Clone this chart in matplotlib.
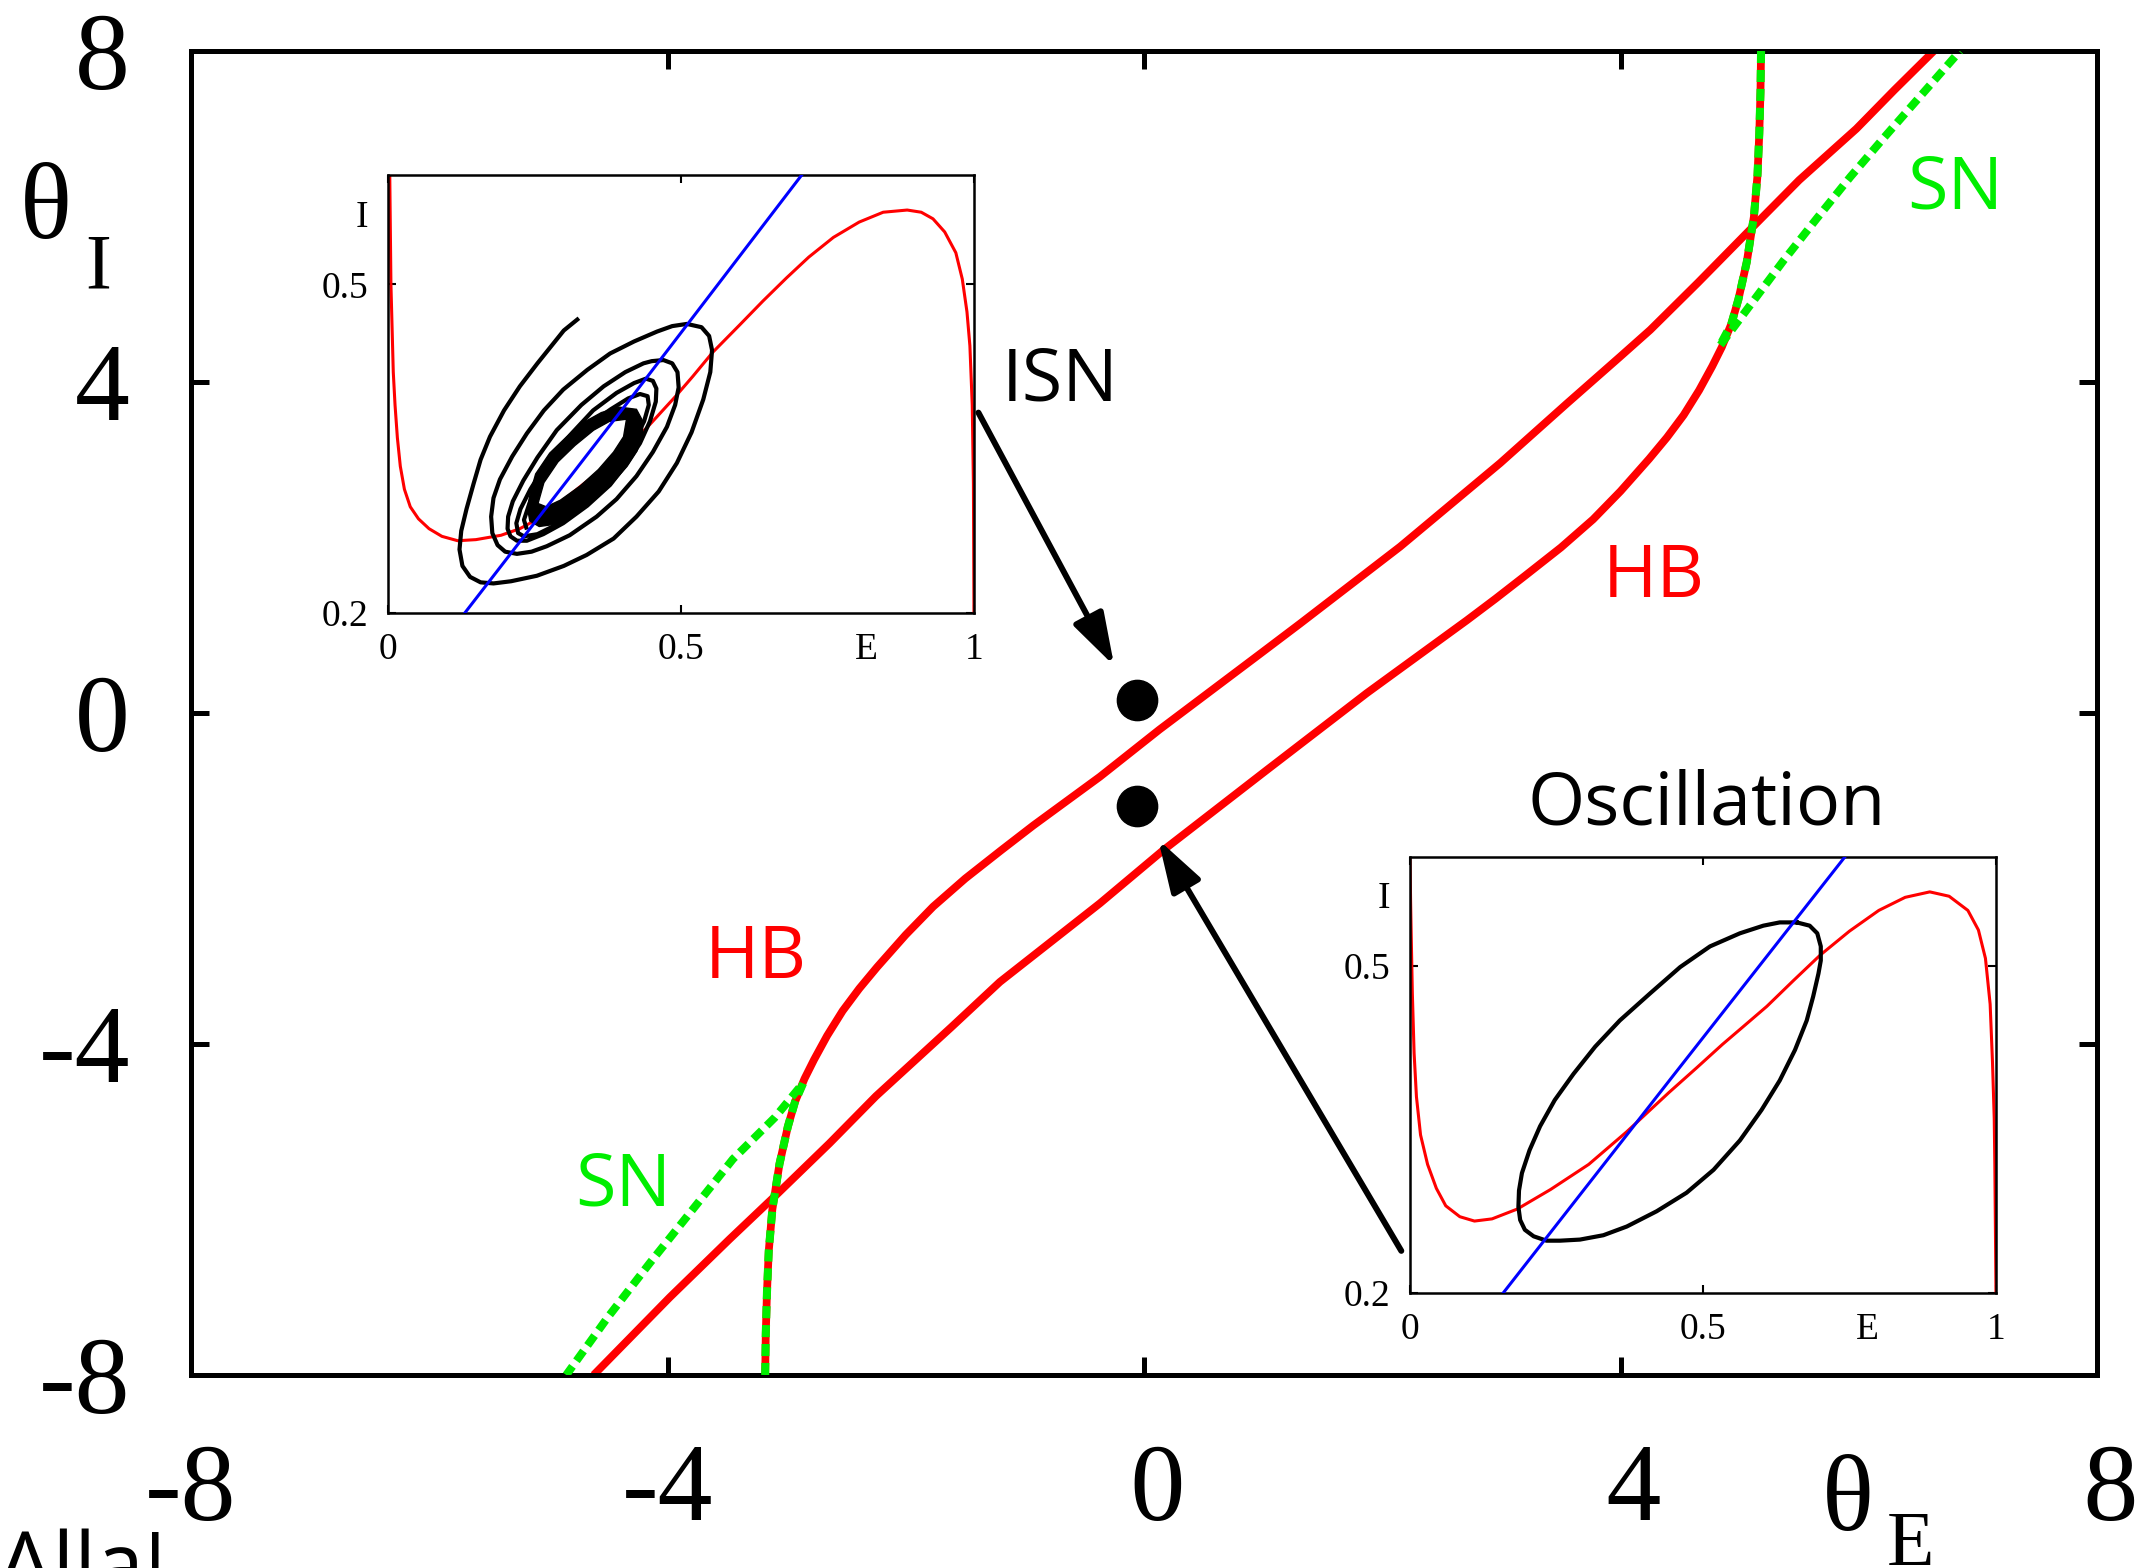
import matplotlib
matplotlib.use("Agg")
import matplotlib.pyplot as plt
from matplotlib.path import Path
from matplotlib.patches import PathPatch

plt.rcParams["font.family"] = ["Liberation Serif", "DejaVu Serif"]
plt.rcParams["axes.unicode_minus"] = False

RED = "#ff0000"
GREEN = "#00ee00"
BLUE = "#0000ff"
SANS = ["Open Sans", "DejaVu Sans"]

W, H = 2144, 1568

# ---- two-parameter bifurcation diagram (theta_E, theta_I) ----
hb_a_x = [-3.18, -3.175, -3.165, -3.15, -3.12, -3.06, -2.99, -2.93, -2.85, -2.77,
          -2.66, -2.53, -2.39, -2.24, -2.0, -1.77, -1.5, -1.2, -0.93, -0.37,
          0.13, 0.97, 1.31, 2.15, 2.99, 3.55, 4.0, 4.25, 4.65, 5.06, 5.5, 5.98,
          6.3, 6.63]
hb_a_y = [-8.0, -7.5, -7.0, -6.5, -6.0, -5.45, -5.0, -4.7, -4.42, -4.19,
          -3.9, -3.6, -3.33, -3.07, -2.68, -2.34, -2.0, -1.66, -1.36, -0.77,
          -0.2, 0.71, 1.08, 2.01, 3.02, 3.74, 4.31, 4.63, 5.2, 5.8, 6.44, 7.06,
          7.53, 8.0]

hb_b_x = [-4.62, -4.3, -3.98, -3.48, -3.07, -2.64, -2.25, -1.62, -1.21, -0.37,
          0.16, 1.03, 1.87, 2.71, 2.95, 3.2, 3.5, 3.77, 4.0, 4.24, 4.39, 4.53,
          4.66, 4.77, 4.85, 4.93, 4.99, 5.06, 5.12, 5.15, 5.165, 5.175, 5.18]
hb_b_y = [-8.0, -7.53, -7.06, -6.36, -5.8, -5.2, -4.63, -3.8, -3.25, -2.3,
          -1.66, -0.69, 0.24, 1.12, 1.38, 1.66, 2.0, 2.34, 2.68, 3.07, 3.33, 3.6,
          3.9, 4.19, 4.42, 4.7, 5.0, 5.45, 6.0, 6.5, 7.0, 7.5, 8.0]

sn_left_x = [-3.18, -3.175, -3.165, -3.15, -3.12, -3.06, -2.99, -2.93, -2.86,
             -3.1, -3.45, -3.8, -4.15, -4.5, -4.85]
sn_left_y = [-8.0, -7.5, -7.0, -6.5, -6.0, -5.45, -5.0, -4.7, -4.47,
             -4.89, -5.39, -6.02, -6.65, -7.3, -8.0]

sn_right_x = [5.18, 5.175, 5.165, 5.15, 5.12, 5.06, 4.99, 4.93, 4.83,
              5.1, 5.37, 5.65, 5.93, 6.21, 6.49, 6.85]
sn_right_y = [8.0, 7.5, 7.0, 6.5, 6.0, 5.45, 5.0, 4.7, 4.43,
              4.95, 5.47, 5.98, 6.48, 6.95, 7.41, 8.0]

state_x = [-0.056, -0.056]
state_y = [0.157, -1.124]

ticks = [-8, -4, 0, 4, 8]
xtick_labels = ["-8", "-4", " 0", " 4", " 8"]
ytick_labels = ["-8", "-4", "0", "4", "8"]

# ---- phase plane, ISN regime ----
isn_ecline_e = [0.003, 0.004, 0.005, 0.007, 0.009, 0.012, 0.016, 0.021, 0.028, 0.038,
                0.052, 0.07, 0.092, 0.119, 0.15, 0.193, 0.225, 0.256, 0.29, 0.327,
                0.37, 0.413, 0.45, 0.491, 0.52, 0.554, 0.60, 0.640, 0.68, 0.718,
                0.76, 0.804, 0.845, 0.886, 0.91, 0.93, 0.95, 0.969, 0.98, 0.988,
                0.993, 0.997, 0.999, 1.0]
isn_ecline_i = [0.60, 0.55, 0.50, 0.46, 0.42, 0.39, 0.36, 0.334, 0.313, 0.297,
                0.286, 0.277, 0.27, 0.266, 0.267, 0.271, 0.277, 0.286, 0.299, 0.315,
                0.333, 0.353, 0.374, 0.398, 0.416, 0.438, 0.463, 0.485, 0.506, 0.525,
                0.543, 0.557, 0.566, 0.568, 0.566, 0.56, 0.548, 0.529, 0.505, 0.475,
                0.444, 0.39, 0.318, 0.2]
isn_icline_e = [0.131, 0.42, 0.706]
isn_icline_i = [0.2, 0.40, 0.6]

isn_traj_e = [0.323, 0.30, 0.282, 0.255, 0.225, 0.198, 0.174, 0.158, 0.146, 0.134,
              0.125, 0.122, 0.127, 0.14, 0.158, 0.18, 0.21, 0.254, 0.30, 0.339,
              0.385, 0.424, 0.462, 0.493, 0.518, 0.538, 0.55, 0.553, 0.548, 0.535,
              0.51, 0.485, 0.459,
              0.42, 0.379, 0.34, 0.299, 0.266, 0.237, 0.212, 0.191, 0.18, 0.176,
              0.178, 0.187, 0.20, 0.22, 0.245, 0.271, 0.31, 0.356, 0.39, 0.424,
              0.452, 0.476, 0.49, 0.496, 0.494, 0.485, 0.47, 0.45, 0.436,
              0.405, 0.368, 0.33, 0.288, 0.255, 0.231, 0.213, 0.205, 0.204, 0.209,
              0.22, 0.237, 0.265, 0.299, 0.34, 0.379, 0.408, 0.43, 0.447, 0.457,
              0.458, 0.452, 0.44, 0.42,
              0.39, 0.35, 0.31, 0.27, 0.243, 0.226, 0.219, 0.222, 0.232, 0.255,
              0.285, 0.32, 0.355, 0.39, 0.418, 0.437, 0.445, 0.443, 0.43, 0.41,
              0.38, 0.34, 0.30, 0.262, 0.24, 0.232, 0.236]
isn_traj_i = [0.468, 0.458, 0.446, 0.428, 0.407, 0.385, 0.361, 0.34, 0.318, 0.295,
              0.275, 0.258, 0.243, 0.233, 0.228, 0.227, 0.229, 0.234, 0.243, 0.253,
              0.268, 0.288, 0.311, 0.337, 0.365, 0.395, 0.42, 0.44, 0.453, 0.461,
              0.464, 0.462, 0.457,
              0.448, 0.437, 0.422, 0.404, 0.385, 0.364, 0.343, 0.322, 0.305, 0.288,
              0.273, 0.262, 0.256, 0.254, 0.256, 0.261, 0.271, 0.288, 0.304, 0.325,
              0.347, 0.37, 0.39, 0.406, 0.42, 0.428, 0.431, 0.43, 0.428,
              0.42, 0.407, 0.39, 0.367, 0.342, 0.321, 0.302, 0.288, 0.277, 0.27,
              0.266, 0.266, 0.272, 0.282, 0.298, 0.317, 0.337, 0.355, 0.375, 0.393,
              0.405, 0.412, 0.414, 0.41,
              0.401, 0.385, 0.362, 0.336, 0.313, 0.295, 0.282, 0.273, 0.27, 0.272,
              0.28, 0.294, 0.311, 0.333, 0.355, 0.375, 0.39, 0.398, 0.40, 0.396,
              0.386, 0.371, 0.352, 0.328, 0.298, 0.285, 0.278]

# tightly wound windings near the end of the trajectory (filled band with a hole)
ring_outer_e = [0.424, 0.435, 0.434, 0.425, 0.408, 0.382, 0.351, 0.317, 0.285, 0.258,
                0.242, 0.238, 0.243, 0.252, 0.276, 0.305, 0.337, 0.364, 0.395]
ring_outer_i = [0.386, 0.375, 0.362, 0.348, 0.334, 0.318, 0.303, 0.290, 0.281, 0.279,
                0.284, 0.296, 0.31, 0.327, 0.346, 0.361, 0.375, 0.383, 0.388]
ring_inner_e = [0.407, 0.402, 0.385, 0.359, 0.328, 0.294, 0.270, 0.256, 0.266, 0.290,
                0.319, 0.351, 0.378]
ring_inner_i = [0.377, 0.361, 0.347, 0.331, 0.316, 0.303, 0.297, 0.300, 0.319, 0.338,
                0.353, 0.367, 0.375]

# ---- phase plane, oscillatory regime ----
osc_ecline_e = [0.0, 0.001, 0.002, 0.004, 0.007, 0.011, 0.018, 0.03, 0.045, 0.061,
                0.085, 0.110, 0.14, 0.183, 0.24, 0.305, 0.37, 0.442, 0.49, 0.533,
                0.57, 0.609, 0.655, 0.70, 0.75, 0.80, 0.845, 0.887, 0.92, 0.952,
                0.97, 0.982, 0.99, 0.994, 0.997, 0.998, 1.0]
osc_ecline_i = [0.6, 0.56, 0.53, 0.475, 0.42, 0.38, 0.345, 0.318, 0.296, 0.28,
                0.27, 0.266, 0.268, 0.277, 0.295, 0.318, 0.348, 0.384, 0.407, 0.428,
                0.445, 0.463, 0.487, 0.51, 0.532, 0.551, 0.563, 0.568, 0.564, 0.551,
                0.533, 0.507, 0.465, 0.412, 0.36, 0.318, 0.2]
osc_icline_e = [0.159, 0.45, 0.742]
osc_icline_i = [0.2, 0.40, 0.6]
osc_cycle_e = [0.660, 0.682, 0.695, 0.701, 0.701, 0.697, 0.688, 0.677, 0.657, 0.631,
               0.600, 0.563, 0.518, 0.472, 0.421, 0.370, 0.330, 0.290, 0.256, 0.233,
               0.211, 0.196, 0.188, 0.185, 0.186, 0.191, 0.204, 0.222, 0.247, 0.279,
               0.316, 0.358, 0.410, 0.461, 0.512, 0.563, 0.603, 0.631, 0.660]
osc_cycle_i = [0.540, 0.537, 0.530, 0.518, 0.505, 0.493, 0.472, 0.450, 0.423, 0.395,
               0.368, 0.340, 0.313, 0.292, 0.275, 0.261, 0.253, 0.249, 0.248, 0.248,
               0.252, 0.258, 0.267, 0.279, 0.294, 0.310, 0.331, 0.353, 0.377, 0.401,
               0.426, 0.450, 0.475, 0.499, 0.518, 0.530, 0.537, 0.540, 0.540]


def box(px_left, px_top, px_right, px_bottom):
    return [px_left / W, 1 - px_bottom / H, (px_right - px_left) / W,
            (px_bottom - px_top) / H]


fig = plt.figure(figsize=(W / 100, H / 100), dpi=100)
ax = fig.add_axes(box(191, 51, 2097, 1375))

ax.plot(hb_a_x, hb_a_y, color=RED, lw=5.6, solid_capstyle="butt", zorder=2)
ax.plot(hb_b_x, hb_b_y, color=RED, lw=5.6, solid_capstyle="butt", zorder=2)
for sx, sy in [(sn_left_x, sn_left_y), (sn_right_x, sn_right_y)]:
    ax.plot(sx, sy, color=GREEN, lw=5.8, ls=(0, (1.5, 0.85)),
            dash_capstyle="butt", zorder=3)
ax.plot(state_x, state_y, "o", color="k", ms=29, zorder=4)

arrow = dict(arrowstyle="-|>,head_length=1.6,head_width=0.5", lw=4.3,
             color="k", mutation_scale=20, shrinkA=0, shrinkB=0)
ax.annotate("", xy=(-0.25, 0.57), xytext=(-1.39, 3.63), arrowprops=arrow)
ax.annotate("", xy=(0.12, -1.53), xytext=(2.16, -6.50), arrowprops=arrow)

lbl = dict(family=SANS, fontsize=53, ha="center", va="baseline")
ax.text(6.81, 6.10, "SN", color=GREEN, **lbl)
ax.text(-4.37, -5.95, "SN", color=GREEN, **lbl)
ax.text(4.28, 1.40, "HB", color=RED, **lbl)
ax.text(-3.26, -3.20, "HB", color=RED, **lbl)
ax.text(-0.70, 3.78, "ISN", color="k", **lbl)
ax.text(4.72, -1.35, "Oscillation", color="k", **lbl)

ax.set_xlim(-8, 8)
ax.set_ylim(-8, 8)
ax.set_xticks(ticks, xtick_labels)
ax.set_yticks(ticks, ytick_labels)
ax.tick_params(direction="in", length=13, width=3.6, labelsize=79,
               top=True, right=True)
ax.tick_params(axis="x", pad=49)
ax.tick_params(axis="y", pad=44)
for s in ax.spines.values():
    s.set_linewidth(3.6)

# axis titles: theta with a subscript, drawn as two pieces
fig.text(20 / W, 1 - 238 / H, "θ", fontsize=78, va="baseline")
fig.text(85 / W, 1 - 287 / H, "I", fontsize=56, va="baseline")
fig.text(1822 / W, 1 - 1530 / H, "θ", fontsize=78, va="baseline")
fig.text(1887 / W, 1 - 1565 / H, "E", fontsize=56, va="baseline")

fig.text(-2 / W, 1 - 1594 / H, "Alla!", family=SANS, fontsize=62,
         va="baseline", ha="left")


def phase_axes(rect, e_label_pos):
    a = fig.add_axes(rect, zorder=5)
    a.set_xlim(0, 1)
    a.set_ylim(0.2, 0.6)
    a.set_xticks([0, 0.5, 1], ["0", "0.5", "1"])
    a.set_yticks([0.2, 0.5], ["0.2", "0.5"])
    a.set_xticks([e_label_pos], ["E"], minor=True)
    a.set_yticks([0.565], ["I"], minor=True)
    a.tick_params(which="both", direction="in", labelsize=27, pad=14,
                  top=True, right=True)
    a.tick_params(which="major", length=6, width=1.5)
    a.tick_params(which="minor", length=0)
    for s in a.spines.values():
        s.set_linewidth(1.8)
    return a


ins1 = phase_axes(box(388, 175, 974, 613), 0.817)
ins1.plot(isn_ecline_e, isn_ecline_i, color=RED, lw=2.2)
ins1.plot(isn_icline_e, isn_icline_i, color=BLUE, lw=2.2, zorder=4)
ins1.plot(isn_traj_e, isn_traj_i, color="k", lw=3.0, zorder=3,
          solid_joinstyle="round")
outer = list(zip(ring_outer_e, ring_outer_i))
inner = list(zip(ring_inner_e, ring_inner_i))[::-1]
verts = outer + [outer[0]] + inner + [inner[0]]
codes = ([Path.MOVETO] + [Path.LINETO] * (len(outer) - 1) + [Path.CLOSEPOLY]
         + [Path.MOVETO] + [Path.LINETO] * (len(inner) - 1) + [Path.CLOSEPOLY])
ins1.add_patch(PathPatch(Path(verts, codes), facecolor="k", edgecolor="k",
                         lw=1.0, zorder=3))

ins2 = phase_axes(box(1410, 857, 1996, 1293), 0.78)
ins2.plot(osc_ecline_e, osc_ecline_i, color=RED, lw=2.2)
ins2.plot(osc_icline_e, osc_icline_i, color=BLUE, lw=2.2, zorder=4)
ins2.plot(osc_cycle_e, osc_cycle_i, color="k", lw=3.0, zorder=3,
          solid_joinstyle="round")

fig.savefig("out.png", dpi=100)
